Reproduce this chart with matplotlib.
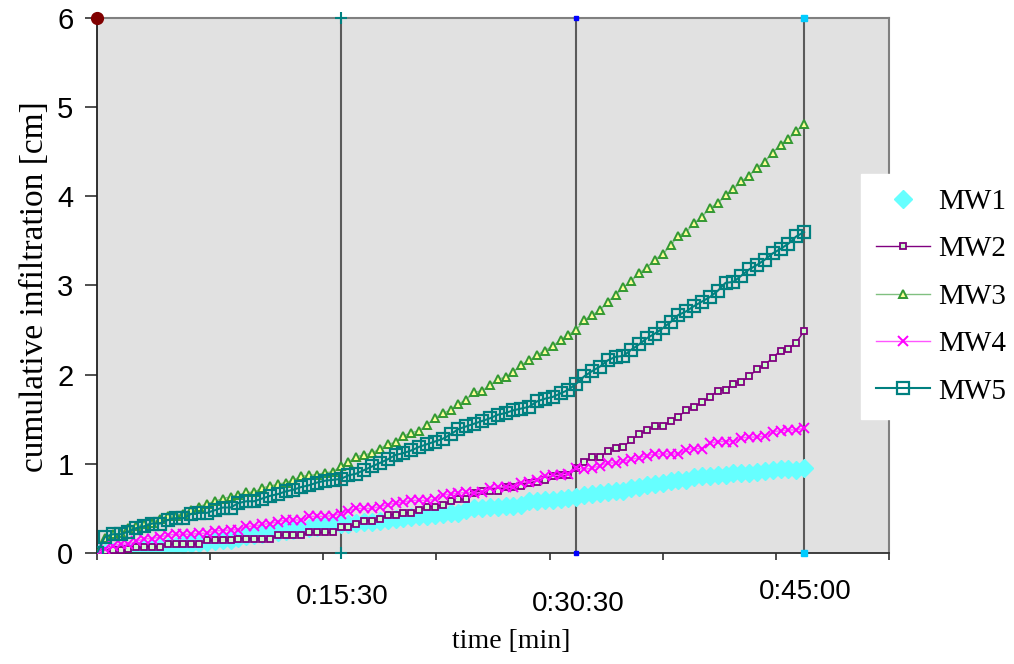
import numpy as np
import matplotlib
matplotlib.use("Agg")
from matplotlib import pyplot as plt
import matplotlib.transforms as mtransforms

# time axis in minutes, one reading every 30 s
time_min = np.arange(0, 45.01, 0.5)

mw1 = [0.00, 0.00, 0.01, 0.01, 0.02, 0.03, 0.04, 0.05, 0.06, 0.07,
       0.08, 0.09, 0.10, 0.11, 0.12, 0.13, 0.14, 0.15, 0.17, 0.19,
       0.20, 0.21, 0.22, 0.24, 0.25, 0.26, 0.27, 0.28, 0.29, 0.30,
       0.31, 0.32, 0.33, 0.34, 0.35, 0.35, 0.36, 0.37, 0.38, 0.39,
       0.40, 0.41, 0.42, 0.43, 0.44, 0.45, 0.45, 0.48, 0.50, 0.50,
       0.52, 0.52, 0.53, 0.53, 0.54, 0.58, 0.58, 0.59, 0.59, 0.61,
       0.62, 0.63, 0.65, 0.66, 0.67, 0.68, 0.69, 0.70, 0.73, 0.74,
       0.76, 0.77, 0.79, 0.81, 0.82, 0.82, 0.85, 0.86, 0.86, 0.88,
       0.88, 0.90, 0.90, 0.90, 0.91, 0.92, 0.93, 0.94, 0.94, 0.93,
       0.95]
mw2 = [0.00, 0.02, 0.03, 0.03, 0.05, 0.07, 0.07, 0.07, 0.07, 0.10,
       0.10, 0.10, 0.10, 0.10, 0.14, 0.14, 0.14, 0.14, 0.16, 0.16,
       0.16, 0.16, 0.16, 0.20, 0.20, 0.20, 0.20, 0.23, 0.23, 0.23,
       0.23, 0.29, 0.29, 0.33, 0.36, 0.36, 0.38, 0.43, 0.43, 0.45,
       0.45, 0.48, 0.52, 0.52, 0.54, 0.58, 0.60, 0.61, 0.67, 0.69,
       0.70, 0.70, 0.74, 0.74, 0.75, 0.79, 0.80, 0.82, 0.86, 0.87,
       0.88, 0.95, 1.02, 1.08, 1.08, 1.14, 1.18, 1.19, 1.27, 1.33,
       1.38, 1.42, 1.42, 1.48, 1.53, 1.60, 1.64, 1.69, 1.75, 1.82,
       1.83, 1.90, 1.92, 1.98, 2.06, 2.11, 2.19, 2.27, 2.29, 2.36,
       2.49]
mw3 = [0.00, 0.17, 0.21, 0.22, 0.28, 0.30, 0.32, 0.34, 0.38, 0.41,
       0.42, 0.44, 0.48, 0.52, 0.55, 0.58, 0.61, 0.63, 0.65, 0.68,
       0.68, 0.73, 0.75, 0.77, 0.79, 0.82, 0.86, 0.87, 0.88, 0.90,
       0.91, 0.97, 1.02, 1.08, 1.10, 1.12, 1.17, 1.22, 1.24, 1.31,
       1.35, 1.37, 1.44, 1.51, 1.57, 1.60, 1.67, 1.72, 1.80, 1.82,
       1.88, 1.95, 1.97, 2.03, 2.11, 2.16, 2.22, 2.27, 2.32, 2.39,
       2.45, 2.50, 2.61, 2.67, 2.72, 2.82, 2.89, 2.98, 3.05, 3.14,
       3.20, 3.29, 3.35, 3.45, 3.56, 3.60, 3.70, 3.77, 3.87, 3.92,
       4.01, 4.08, 4.17, 4.23, 4.32, 4.39, 4.49, 4.58, 4.64, 4.73,
       4.81]
mw4 = [0.00, 0.04, 0.08, 0.10, 0.10, 0.13, 0.16, 0.16, 0.18, 0.20,
       0.21, 0.21, 0.21, 0.22, 0.22, 0.25, 0.25, 0.26, 0.26, 0.30,
       0.30, 0.32, 0.33, 0.35, 0.37, 0.37, 0.37, 0.41, 0.41, 0.41,
       0.42, 0.44, 0.47, 0.50, 0.50, 0.50, 0.52, 0.54, 0.56, 0.57,
       0.59, 0.59, 0.59, 0.60, 0.65, 0.66, 0.67, 0.68, 0.67, 0.68,
       0.73, 0.74, 0.74, 0.74, 0.79, 0.80, 0.82, 0.86, 0.87, 0.87,
       0.89, 0.95, 0.94, 0.95, 0.98, 1.01, 1.01, 1.03, 1.05, 1.07,
       1.09, 1.11, 1.11, 1.11, 1.11, 1.16, 1.17, 1.17, 1.23, 1.25,
       1.25, 1.25, 1.29, 1.30, 1.30, 1.31, 1.36, 1.37, 1.38, 1.38,
       1.40]
mw5 = [0.00, 0.18, 0.21, 0.21, 0.24, 0.28, 0.30, 0.33, 0.33, 0.37,
       0.39, 0.39, 0.44, 0.45, 0.45, 0.48, 0.51, 0.51, 0.56, 0.58,
       0.58, 0.61, 0.64, 0.66, 0.69, 0.71, 0.74, 0.76, 0.79, 0.81,
       0.82, 0.83, 0.87, 0.89, 0.93, 0.97, 1.01, 1.05, 1.10, 1.12,
       1.15, 1.19, 1.22, 1.25, 1.28, 1.33, 1.39, 1.42, 1.45, 1.48,
       1.51, 1.55, 1.57, 1.60, 1.62, 1.64, 1.70, 1.73, 1.75, 1.79,
       1.83, 1.90, 1.98, 2.04, 2.09, 2.16, 2.20, 2.21, 2.28, 2.34,
       2.41, 2.46, 2.52, 2.59, 2.67, 2.71, 2.77, 2.82, 2.87, 2.94,
       3.03, 3.04, 3.11, 3.18, 3.23, 3.29, 3.36, 3.41, 3.47, 3.55,
       3.60]

# reference times marked with vertical lines
mark_times = [15.5, 30.5, 45.0]
mark_labels = ["0:15:30", "0:30:30", "0:45:00"]

fig = plt.figure(figsize=(10.14, 6.64), dpi=100)
ax = fig.add_axes([0.0957, 0.1672, 0.7810, 0.8057])
ax.set_facecolor("#e1e1e1")

# vertical marker lines with their end points
for t in mark_times:
    ax.plot([t, t], [0, 6], color="#5a5a5a", lw=1.5, zorder=1)
ax.plot([0], [6], "o", color="#800000", ms=8.5, clip_on=False, zorder=5)
ax.plot([15.5, 15.5], [0, 6], "+", color="#008080", ms=8, mew=1.5,
        ls="none", clip_on=False, zorder=5)
ax.plot([30.5, 30.5], [0, 6], "s", color="#0000ff", ms=3.5,
        ls="none", clip_on=False, zorder=5)
ax.plot([45, 45], [0, 6], "s", color="#00ccff", ms=4.5,
        ls="none", clip_on=False, zorder=5)

# series
ax.plot(time_min, mw1, "D", ls="none", color="#66ffff", ms=9, mec="#66ffff",
        zorder=2, label="MW1")
ax.plot(time_min, mw2, "-s", color="#800080", lw=1, ms=5, mfc="#ccffcc",
        mec="#800080", mew=1.3, zorder=3, label="MW2")
ax.plot(time_min, mw3, "-^", color="#80c080", lw=1, ms=6, mfc="#ffff99",
        mec="#339933", mew=1.4, zorder=3, label="MW3")
ax.plot(time_min, mw4, "-x", color="#ff55ff", lw=1, ms=7, mec="#ff00ff",
        mew=1.4, zorder=4, label="MW4")
ax.plot(time_min, mw5, "-s", color="#008080", lw=1.5, ms=8.5, mfc="none",
        mec="#008080", mew=1.6, zorder=4, label="MW5")

ax.set_xlim(0, 50.4)
ax.set_ylim(0, 6)

# axes styling
for side in ["top", "right"]:
    ax.spines[side].set_color("#808080")
    ax.spines[side].set_linewidth(1.5)
ax.spines["left"].set_color("#202020")
ax.spines["left"].set_linewidth(1.3)
ax.spines["bottom"].set_color("#303030")
ax.spines["bottom"].set_linewidth(1.3)

ax.set_yticks(range(7))
ax.set_yticklabels([str(i) for i in range(7)], family="Liberation Sans",
                   fontsize=21)
ax.tick_params(axis="y", length=9, width=1.3, color="#404040", pad=8)
ax.set_xticks(np.arange(0, 50.5, 7.2))
ax.set_xticklabels([])
ax.tick_params(axis="x", length=5, width=1.2, color="#303030")

trans = mtransforms.blended_transform_factory(ax.transData, ax.transAxes)
label_y = [-0.082, -0.095, -0.073]
for t, lab, yy in zip(mark_times, mark_labels, label_y):
    ax.text(t + 0.1, yy, lab, transform=trans, ha="center", va="center",
            family="Liberation Sans", fontsize=20)

ax.text(0.523, -0.165, "time [min]", transform=ax.transAxes, ha="center",
        va="center", family="Liberation Serif", fontsize=20)
ax.text(-0.079, 0.497, "cumulative infiltration [cm]", transform=ax.transAxes,
        ha="center", va="center", rotation=90, family="Liberation Serif",
        fontsize=24)

leg = ax.legend(loc="upper left", bbox_to_anchor=(861 / 1014, 1 - 174 / 664),
                bbox_transform=fig.transFigure, frameon=True, fancybox=False,
                prop={"family": "Liberation Serif", "size": 21},
                handlelength=1.85, handletextpad=0.3, labelspacing=0.72,
                borderpad=0.5, borderaxespad=0)
leg.get_frame().set_facecolor("white")
leg.get_frame().set_edgecolor("white")
leg.get_frame().set_alpha(1)

fig.savefig("out.png", dpi=100)
